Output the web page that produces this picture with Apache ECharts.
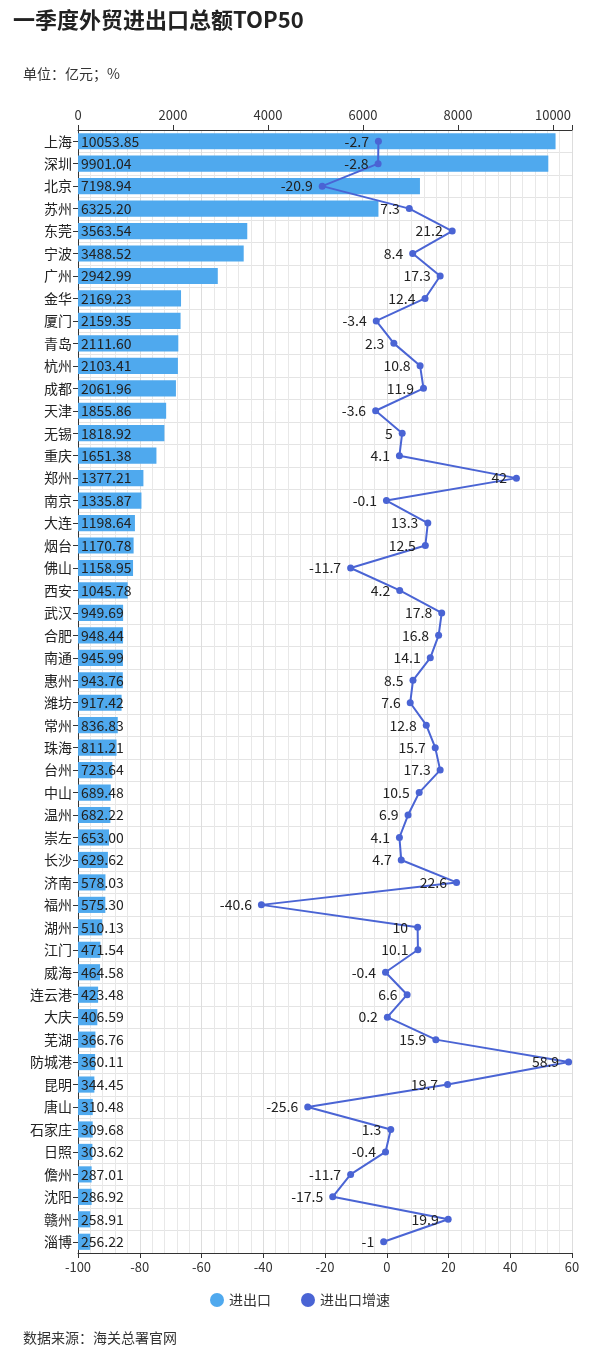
<!DOCTYPE html><html><head><meta charset="utf-8">
<script src="https://cdn.jsdelivr.net/npm/echarts@6/dist/echarts.min.js"></script>
<style>body{margin:0;background:#fff}#c{width:600px;height:1356px}</style></head><body><div id="c"></div>
<script>
const cities=['上海','深圳','北京','苏州','东莞','宁波','广州','金华','厦门','青岛','杭州','成都','天津','无锡','重庆','郑州','南京','大连','烟台','佛山','西安','武汉','合肥','南通','惠州','潍坊','常州','珠海','台州','中山','温州','崇左','长沙','济南','福州','湖州','江门','威海','连云港','大庆','芜湖','防城港','昆明','唐山','石家庄','日照','儋州','沈阳','赣州','淄博'];
const totals=[10053.85,9901.04,7198.94,6325.20,3563.54,3488.52,2942.99,2169.23,2159.35,2111.60,2103.41,2061.96,1855.86,1818.92,1651.38,1377.21,1335.87,1198.64,1170.78,1158.95,1045.78,949.69,948.44,945.99,943.76,917.42,836.83,811.21,723.64,689.48,682.22,653.00,629.62,578.03,575.30,510.13,471.54,464.58,423.48,406.59,366.76,360.11,344.45,310.48,309.68,303.62,287.01,286.92,258.91,256.22];
const growth=[-2.7,-2.8,-20.9,7.3,21.2,8.4,17.3,12.4,-3.4,2.3,10.8,11.9,-3.6,5,4.1,42,-0.1,13.3,12.5,-11.7,4.2,17.8,16.8,14.1,8.5,7.6,12.8,15.7,17.3,10.5,6.9,4.1,4.7,22.6,-40.6,10,10.1,-0.4,6.6,0.2,15.9,58.9,19.7,-25.6,1.3,-0.4,-11.7,-17.5,19.9,-1];
const topTicks=[0,2000,4000,6000,8000,10000];
const ch=echarts.init(document.getElementById('c'));
const ff='"Noto Sans CJK SC",sans-serif';
ch.setOption({
textStyle:{fontFamily:ff},
title:[{text:'一季度外贸进出口总额TOP50',left:8,top:4,textStyle:{fontSize:22,fontWeight:'bold',color:'#222',fontFamily:ff}},
{text:'单位：亿元；%',left:18,top:62,textStyle:{fontSize:14,fontWeight:'normal',color:'#333'}},
{text:'数据来源：海关总署官网',left:18,top:1326,textStyle:{fontSize:14,fontWeight:'normal',color:'#333'}}],
legend:{bottom:44,left:'center',itemWidth:14,itemHeight:14,textStyle:{fontSize:14,color:'#333'},itemGap:30,
 data:[{name:'进出口',icon:'circle'},{name:'进出口增速',icon:'circle'}]},
grid:{left:78,right:28,top:130,bottom:103},
xAxis:[{type:'value',position:'top',min:0,max:10400,interval:2000,
 axisLabel:{fontSize:13,color:'#333',customValues:topTicks,formatter:v=>topTicks.includes(v)?v:''},
 axisLine:{show:true,lineStyle:{color:'#333'}},axisTick:{show:true,lineStyle:{color:'#333'}},splitLine:{show:false}},
{type:'value',position:'bottom',min:-100,max:60,interval:20,
 axisLabel:{fontSize:13,color:'#333'},axisLine:{show:true,lineStyle:{color:'#333'}},axisTick:{show:true},
 splitLine:{show:true,lineStyle:{color:'#ddd'}},minorTick:{show:false},minorSplitLine:{show:true,splitNumber:2,lineStyle:{color:'#e8e8e8'}}}],
yAxis:{type:'category',data:cities,inverse:true,axisLabel:{fontSize:14,color:'#222',margin:6},
 axisLine:{lineStyle:{color:'#333'}},axisTick:{show:true,alignWithLabel:true},splitLine:{show:true,lineStyle:{color:'#e4e4e4'}}},
series:[{name:'进出口',type:'bar',xAxisIndex:0,data:totals,barWidth:'72%',itemStyle:{color:'#4fa9ee'},
 label:{show:true,position:'insideLeft',offset:[-2,0],color:'#222',fontSize:14,formatter:p=>p.value.toFixed(2)}},
{name:'进出口增速',type:'line',xAxisIndex:1,data:growth,symbol:'circle',symbolSize:7,
 lineStyle:{color:'#4a64d4',width:2},itemStyle:{color:'#4a64d4'},
 label:{show:true,position:'left',color:'#222',fontSize:14,distance:6}}]
});
</script></body></html>
